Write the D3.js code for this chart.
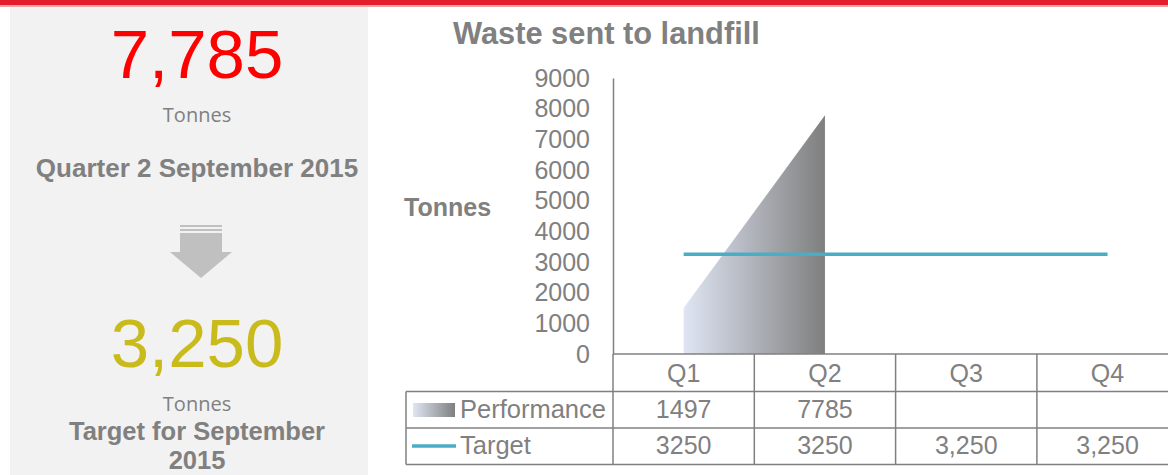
<!DOCTYPE html>
<html><head><meta charset="utf-8">
<script src="https://cdn.jsdelivr.net/npm/d3@7"></script>
<style>
html,body{margin:0;padding:0;background:#fff;}
svg{display:block;}
</style></head>
<body>
<svg id="chart" width="1168" height="475"></svg>
<script>
const quarters = ["Q1", "Q2", "Q3", "Q4"];
const performance = [1497, 7785, null, null];
const target = [3250, 3250, 3250, 3250];
const targetLabels = ["3250", "3250", "3,250", "3,250"];
const yTicks = [0, 1000, 2000, 3000, 4000, 5000, 6000, 7000, 8000, 9000];
const headline = "7,785";
const headlineTarget = "3,250";

const svg = d3.select("#chart");
const AR = "'Liberation Sans', Arial, sans-serif";
const GREY = "#808080";

// top red bar
svg.append("rect").attr("x",0).attr("y",0).attr("width",1168).attr("height",5).attr("fill","#e31d2a");
svg.append("rect").attr("x",0).attr("y",5).attr("width",1168).attr("height",2).attr("fill","#eea3a6");

// left panel
svg.append("rect").attr("x",10).attr("y",7).attr("width",358).attr("height",468).attr("fill","#f2f2f2");
const cx = 197;
svg.append("text").attr("x",cx).attr("y",78).attr("text-anchor","middle")
  .style("font-family",AR).style("font-size","69px").attr("fill","#ff0000").text(headline);
svg.append("text").attr("x",cx).attr("y",122).attr("text-anchor","middle")
  .style("font-family","'Open Sans', sans-serif").style("font-size","20px").attr("fill",GREY).text("Tonnes");
svg.append("text").attr("x",cx).attr("y",177).attr("text-anchor","middle")
  .style("font-family",AR).style("font-size","26px").style("font-weight","bold").attr("fill",GREY).text("Quarter 2 September 2015");
// arrow
const ag = svg.append("g").attr("fill","#c0c0c0");
ag.append("rect").attr("x",180).attr("y",225).attr("width",42).attr("height",2);
ag.append("rect").attr("x",180).attr("y",229).attr("width",42).attr("height",2);
ag.append("path").attr("d","M180,233 L222,233 L222,252 L232,252 L201,278 L170,252 L180,252 Z");
svg.append("text").attr("x",cx).attr("y",367).attr("text-anchor","middle")
  .style("font-family",AR).style("font-size","69px").attr("fill","#c9bb1c").text(headlineTarget);
svg.append("text").attr("x",cx).attr("y",411).attr("text-anchor","middle")
  .style("font-family","'Open Sans', sans-serif").style("font-size","20px").attr("fill",GREY).text("Tonnes");
svg.append("text").attr("x",cx).attr("y",440).attr("text-anchor","middle")
  .style("font-family",AR).style("font-size","25.5px").style("font-weight","bold").attr("fill",GREY).text("Target for September");
svg.append("text").attr("x",cx).attr("y",469).attr("text-anchor","middle")
  .style("font-family",AR).style("font-size","25.5px").style("font-weight","bold").attr("fill",GREY).text("2015");

// chart
svg.append("text").attr("x",453).attr("y",44)
  .style("font-family",AR).style("font-size","30.8px").style("font-weight","bold").attr("fill",GREY).text("Waste sent to landfill");
svg.append("text").attr("x",404).attr("y",216)
  .style("font-family",AR).style("font-size","25px").style("font-weight","bold").attr("fill",GREY).text("Tonnes");

const x = d3.scaleBand().domain(quarters).range([613, 613 + 4*141.3]);
const y = d3.scaleLinear().domain([0, 9000]).range([354, 78]);
const xc = q => x(q) + x.bandwidth()/2;

const defs = svg.append("defs");
const grad = defs.append("linearGradient").attr("id","perfGrad")
  .attr("gradientUnits","userSpaceOnUse")
  .attr("x1", xc(quarters[0])).attr("x2", xc(quarters[1])).attr("y1",0).attr("y2",0);
grad.append("stop").attr("offset","0%").attr("stop-color","#dfe5f3");
grad.append("stop").attr("offset","100%").attr("stop-color","#7f7f7f");
const lgrad = defs.append("linearGradient").attr("id","legGrad");
lgrad.append("stop").attr("offset","0%").attr("stop-color","#dfe5f3");
lgrad.append("stop").attr("offset","100%").attr("stop-color","#7f7f7f");

const perfData = quarters.map((q,i)=>({q, v: performance[i]}));
const area = d3.area().defined(d=>d.v!=null).x(d=>xc(d.q)).y0(y(0)).y1(d=>y(d.v));
svg.append("path").datum(perfData).attr("d",area).attr("fill","url(#perfGrad)");

const tData = quarters.map((q,i)=>({q, v: target[i]}));
svg.append("path").datum(tData)
  .attr("d", d3.line().x(d=>xc(d.q)).y(d=>y(d.v)))
  .attr("fill","none").attr("stroke","#4bacc6").attr("stroke-width",3.5);

// y axis
const yAxis = svg.append("g").attr("transform","translate(613,0)")
  .call(d3.axisLeft(y).tickValues(yTicks).tickSize(0).tickPadding(23).tickFormat(d3.format("d")));
yAxis.select(".domain").attr("stroke",GREY).attr("stroke-width",1.5);
yAxis.selectAll("text").style("font-family",AR).style("font-size","25px").attr("fill",GREY);

// data table
const rowTop = 354, rowH = [37.5, 36.5, 36.5];
const r1 = rowTop + rowH[0], r2 = r1 + rowH[1], r3 = r2 + rowH[2];
const tg = svg.append("g").attr("stroke",GREY).attr("stroke-width",1.5);
tg.append("line").attr("x1",613).attr("x2",1168).attr("y1",rowTop).attr("y2",rowTop);
[r1, r2, r3].forEach(yy => tg.append("line").attr("x1",406).attr("x2",1168).attr("y1",yy).attr("y2",yy));
tg.append("line").attr("x1",406).attr("x2",406).attr("y1",r1).attr("y2",r3);
quarters.forEach(q => tg.append("line").attr("x1",x(q)).attr("x2",x(q)).attr("y1",rowTop).attr("y2",r3));
const end = x(quarters[3]) + x.bandwidth();
tg.append("line").attr("x1",end).attr("x2",end).attr("y1",rowTop).attr("y2",r3);

const tf = sel => sel.style("font-family",AR).style("font-size","25px").attr("fill",GREY);
svg.append("g").selectAll("text").data(quarters).join("text")
  .attr("x", d=>xc(d)).attr("y", rowTop+28).attr("text-anchor","middle").call(tf).text(d=>d);
svg.append("g").selectAll("text").data(perfData.filter(d=>d.v!=null)).join("text")
  .attr("x", d=>xc(d.q)).attr("y", r1+26).attr("text-anchor","middle").call(tf).text(d=>d.v);
svg.append("g").selectAll("text").data(quarters.map((q,i)=>({q, t: targetLabels[i]}))).join("text")
  .attr("x", d=>xc(d.q)).attr("y", r2+26).attr("text-anchor","middle").call(tf).text(d=>d.t);

// legend cells
svg.append("rect").attr("x",413).attr("y",403).attr("width",42).attr("height",14).attr("fill","url(#legGrad)");
svg.append("text").attr("x",460).attr("y",r1+26).call(tf).style("font-size","25.5px").text("Performance");
svg.append("line").attr("x1",412).attr("x2",456).attr("y1",446).attr("y2",446).attr("stroke","#4bacc6").attr("stroke-width",3.5);
svg.append("text").attr("x",460).attr("y",r2+26).call(tf).style("font-size","25.5px").text("Target");
</script>
</body></html>
